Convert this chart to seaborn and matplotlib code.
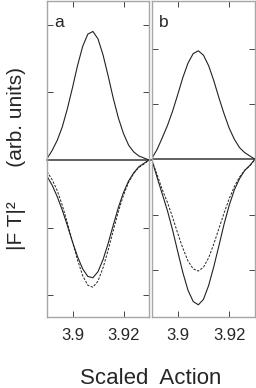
import numpy as np
import pandas as pd
import matplotlib
matplotlib.use("Agg")
import matplotlib.pyplot as plt
import seaborn as sns

# Scaled action grid
action = [3.890, 3.892, 3.894, 3.896, 3.898, 3.900, 3.902, 3.904, 3.906, 3.908,
          3.910, 3.912, 3.914, 3.916, 3.918, 3.920, 3.922, 3.924, 3.926, 3.928, 3.930]

# panel a
a_top = [0.02, 0.14, 0.29, 0.49, 0.76, 1.07, 1.40, 1.68, 1.86, 1.90,
         1.79, 1.55, 1.24, 0.91, 0.62, 0.39, 0.22, 0.12, 0.06, 0.03, 0.00]
a_solid = [-0.24, -0.37, -0.54, -0.74, -0.97, -1.21, -1.43, -1.61, -1.72, -1.74,
           -1.65, -1.47, -1.23, -0.96, -0.70, -0.48, -0.31, -0.19, -0.10, -0.05, 0.00]
a_dash = [-0.17, -0.29, -0.45, -0.67, -0.93, -1.21, -1.48, -1.71, -1.85, -1.88,
          -1.79, -1.59, -1.33, -1.04, -0.76, -0.52, -0.33, -0.20, -0.11, -0.06, 0.00]

# panel b
b_top = [0.02, 0.18, 0.39, 0.61, 0.87, 1.17, 1.48, 1.74, 1.91, 1.96,
         1.88, 1.69, 1.42, 1.11, 0.82, 0.56, 0.36, 0.21, 0.12, 0.06, 0.00]
b_solid = [-0.02, -0.33, -0.63, -0.93, -1.28, -1.67, -2.05, -2.37, -2.57, -2.63,
           -2.53, -2.28, -1.94, -1.56, -1.17, -0.83, -0.55, -0.35, -0.20, -0.11, 0.00]
b_dash = [-0.02, -0.28, -0.55, -0.78, -1.05, -1.34, -1.61, -1.84, -1.98, -2.02,
          -1.95, -1.78, -1.53, -1.25, -0.97, -0.71, -0.49, -0.32, -0.20, -0.12, 0.00]

xticks = [3.9, 3.92]
xtick_labels = ["3.9", "3.92"]
yticks = [-2, -1, 1, 2]

sns.set_style("ticks")
plt.rcParams['font.family'] = ['Liberation Sans Narrow', 'Liberation Sans', 'DejaVu Sans']

FRAME = "#a6a6a6"

fig = plt.figure(figsize=(2.56, 3.88), dpi=100)
ax_a = fig.add_axes([47 / 256, 1 - 317 / 388, 102 / 256, 316 / 388])
ax_b = fig.add_axes([152 / 256, 1 - 317 / 388, 103 / 256, 316 / 388])

panels = [
    (ax_a, a_top, a_solid, a_dash, (-2.32, 2.35), "a"),
    (ax_b, b_top, b_solid, b_dash, (-2.85, 2.86), "b"),
]

for ax, top, solid, dash, ylim, tag in panels:
    df = pd.DataFrame({"x": action, "top": top, "solid": solid, "dash": dash})
    sns.lineplot(data=df, x="x", y="top", ax=ax, color="#222222", lw=0.8)
    sns.lineplot(data=df, x="x", y="solid", ax=ax, color="#222222", lw=0.8)
    sns.lineplot(data=df, x="x", y="dash", ax=ax, color="#222222", lw=0.7,
                 linestyle=(0, (2.5, 1.5)))
    ax.set_xlim(3.89, 3.93)
    ax.set_ylim(*ylim)
    ax.set_xticks(xticks)
    ax.set_xticklabels(xtick_labels, fontsize=12)
    ax.set_yticks(yticks)
    ax.set_yticklabels([])
    ax.set_xlabel("")
    ax.set_ylabel("")
    ax.tick_params(direction="in", length=4, width=0.7, color="#444444",
                   top=True, right=True, pad=8)
    for s in ax.spines.values():
        s.set_visible(True)
        s.set_color(FRAME)
        s.set_linewidth(1.0)
    ax.text(0.07, 0.955, tag, transform=ax.transAxes, fontsize=12.5,
            ha="left", va="top")

# zero line runs straight through the gap between the panels
ax_a.axhline(0, xmin=0, xmax=1.04, color="#555555", lw=1.3, clip_on=False, zorder=1)
ax_b.axhline(0, color="#555555", lw=1.3, zorder=1)

fig.text(151 / 256, 1 - 378 / 388, "Scaled  Action", ha="center", va="center",
         fontsize=16)
fig.text(17 / 256, 1 - 158 / 388, "|F T|\u00b2      (arb. units)", ha="center",
         va="center", rotation=90, fontsize=15)

fig.savefig("out.png", dpi=100)
